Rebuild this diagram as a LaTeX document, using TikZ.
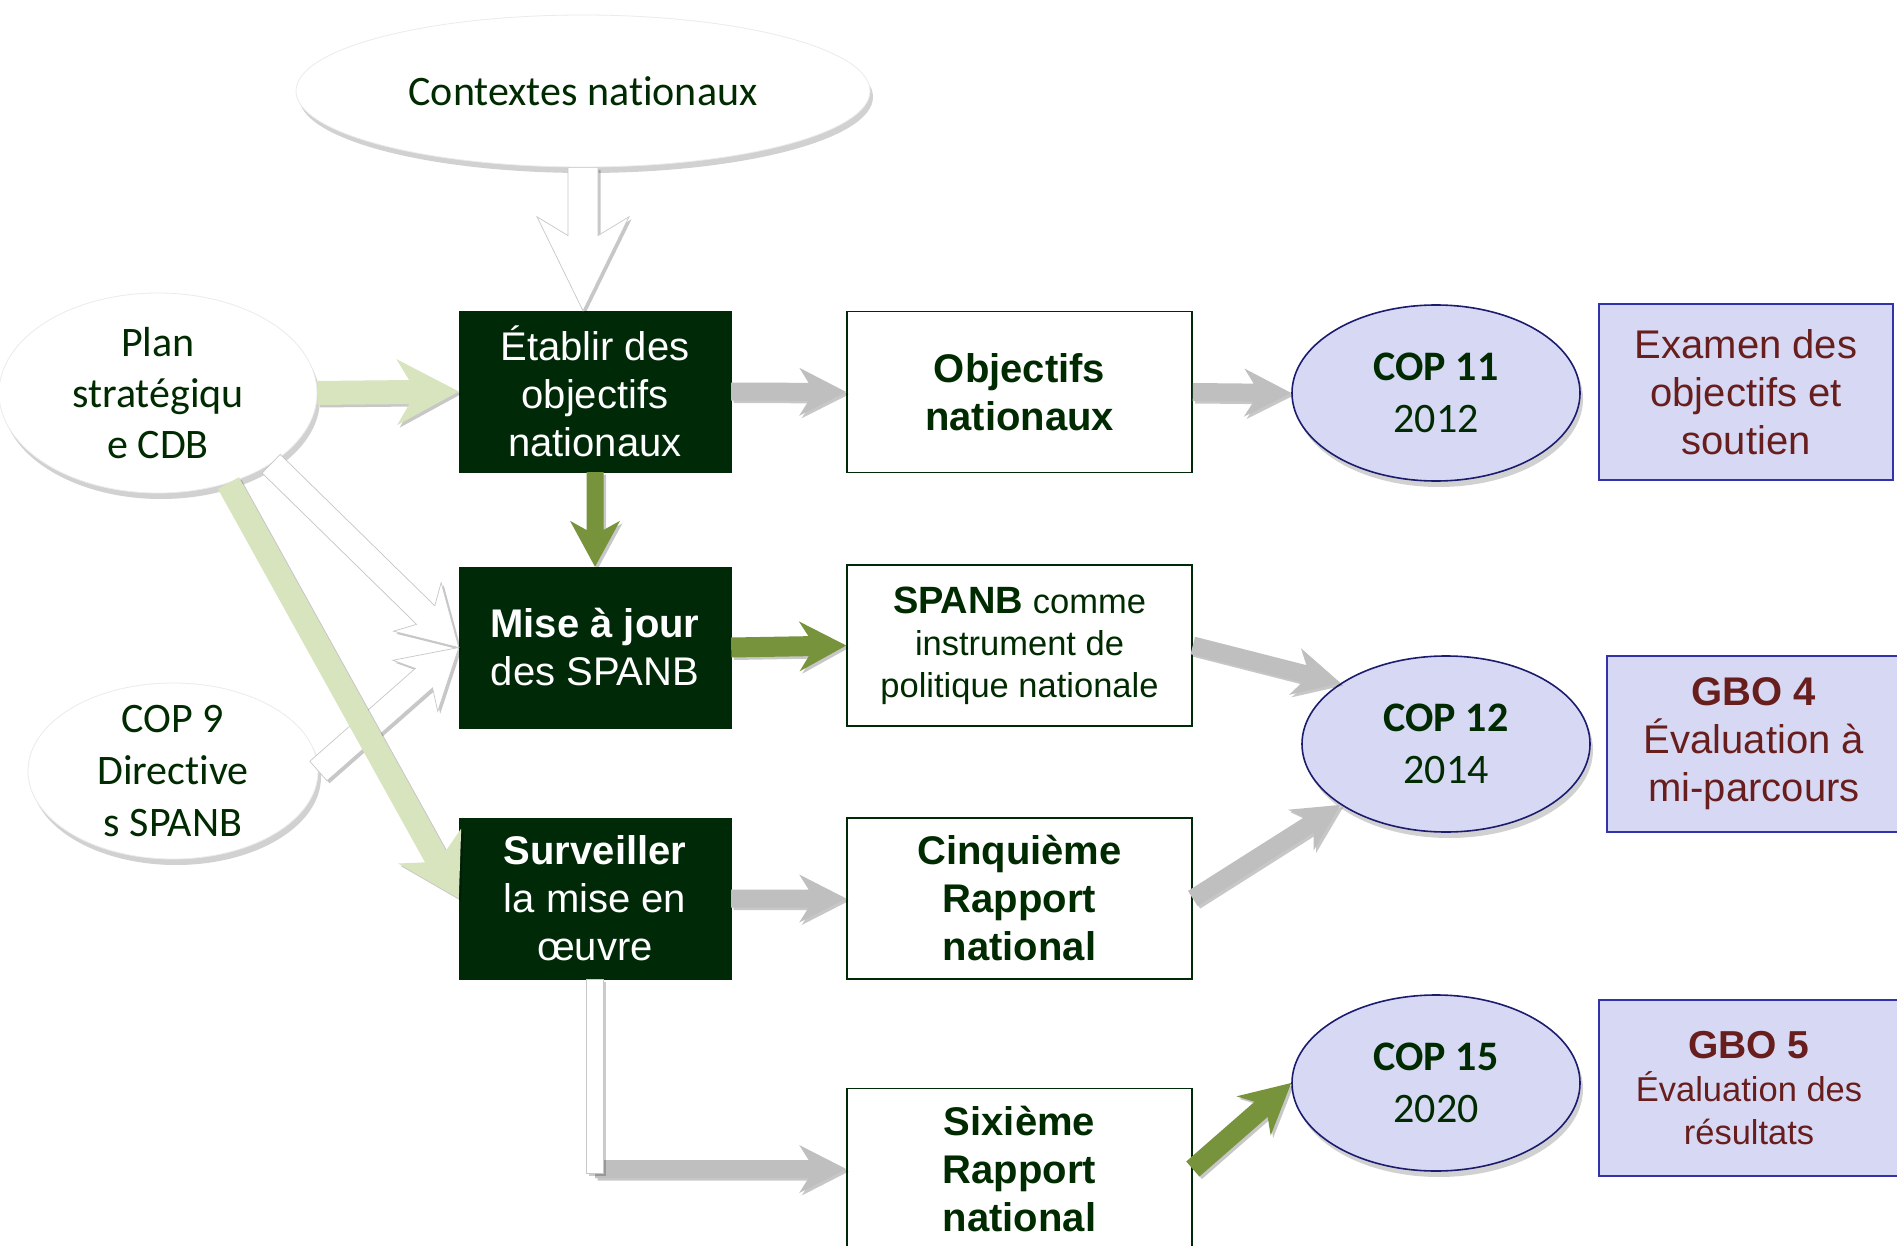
\documentclass[tikz,border=0pt]{standalone}
\usepackage{fontspec}
\setmainfont{Liberation Sans}
\newfontfamily\calfont[Ligatures={NoCommon}]{Carlito}
\usetikzlibrary{shapes.geometric,calc,shadows}

\definecolor{dkgreen}{RGB}{0,41,8}
\definecolor{txtgreen}{RGB}{0,42,0}
\definecolor{lav}{RGB}{215,217,244}
\definecolor{navy}{RGB}{28,28,110}
\definecolor{boxblue}{RGB}{50,50,170}
\definecolor{maroon}{RGB}{105,30,30}
\definecolor{lgreen}{RGB}{215,228,189}
\definecolor{agrey}{RGB}{191,191,191}
\definecolor{olive}{RGB}{119,147,60}

% block arrow: #1 style, #2 from, #3 to, #4 half shaft, #5 head length, #6 head half width
\newcommand\blockarr[6]{%
  \coordinate (bah) at ($(#3)!#5!(#2)$);
  \coordinate (baj) at ($(#3)!0.8*#5!(#2)$);
  \coordinate (bq1) at ($(#2)!#4!90:(#3)$);
  \coordinate (bq2) at ($(baj)!#4!90:(#3)$);
  \coordinate (bq3) at ($(bah)!#6!90:(#3)$);
  \coordinate (bq4) at ($(bah)!#6!-90:(#3)$);
  \coordinate (bq5) at ($(baj)!#4!-90:(#3)$);
  \coordinate (bq6) at ($(#2)!#4!-90:(#3)$);
  \path[arrshadow] (bq1) -- (bq2) -- (bq3) -- (#3) -- (bq4) -- (bq5) -- (bq6) -- cycle;
  \path[#1] (bq1) -- (bq2) -- (bq3) -- (#3) -- (bq4) -- (bq5) -- (bq6) -- cycle;
}

\tikzset{
  arrshadow/.style={fill=black, opacity=0.22, transform canvas={shift={(2.5pt,-2.5pt)}}},
  greyarr/.style={fill=agrey},
  olivearr/.style={fill=olive},
  lgarr/.style={fill=lgreen},
  whitearr/.style={fill=white, draw=black!22, line width=0.7pt},
  ellshadow/.style={drop shadow={shadow xshift=3pt, shadow yshift=-6pt, fill=black, opacity=0.18}},
  whiteell/.style={ellipse, fill=white, draw=black!8, line width=0.8pt, ellshadow, text=txtgreen, align=center, inner sep=0pt,
    font=\calfont\fontsize{42}{51}\selectfont},
  copell/.style={ellipse, fill=lav, draw=navy, line width=1.6pt, ellshadow, text=txtgreen, align=center,
    inner sep=0pt, minimum width=288pt, minimum height=176pt, font=\calfont\fontsize{42}{52}\selectfont},
  darkbox/.style={rectangle, fill=dkgreen, draw=dkgreen, text=white, align=center, inner sep=0pt,
    minimum width=272pt, minimum height=161pt, font=\fontsize{40}{48}\selectfont},
  whitebox/.style={rectangle, fill=white, draw=dkgreen, line width=1.6pt, text=txtgreen, align=center,
    inner sep=0pt, minimum width=345pt, minimum height=161pt, font=\fontsize{40}{48}\selectfont},
  purplebox/.style={rectangle, fill=lav, draw=boxblue, line width=1.6pt, text=maroon, align=center,
    inner sep=0pt, minimum height=176pt, font=\fontsize{40}{48}\selectfont},
}

\begin{document}
\begin{tikzpicture}[x=1pt, y=-1pt]
\useasboundingbox[fill=white] (0,0) rectangle (1897,1246);

% ellipses (inputs)
\node[whiteell, minimum width=574pt, minimum height=152pt] (ctx) at (583,91) {Contextes nationaux};
\node[whiteell, minimum width=318pt, minimum height=200pt, inner ysep=-6pt] (plan) at (158,393) {Plan\\strat\'egiqu\\e CDB};
\node[whiteell, minimum width=290pt, minimum height=176pt, inner ysep=-14pt, font=\calfont\fontsize{42}{52}\selectfont] (cop9) at (173,771) {COP 9\\Directive\\s SPANB};

% dark action boxes
\node[darkbox] (etab) at (595,391.5) {Établir des\\objectifs\\nationaux};
\node[darkbox] (maj) at (595,647.5) {\textbf{Mise à jour}\\des SPANB};
\node[darkbox] (surv) at (595,898.5) {\textbf{Surveiller}\\la mise en\\œuvre};

% white output boxes
\node[whitebox, font=\bfseries\fontsize{40}{48}\selectfont] (obj) at (1019.5,392) {Objectifs\\nationaux};
\node[whitebox, font=\fontsize{34.5}{42}\selectfont] (spanb) at (1019.5,645.5) {{\fontsize{38}{42}\selectfont\bfseries SPANB} comme\\instrument de\\politique nationale};
\node[whitebox, font=\bfseries\fontsize{40}{48}\selectfont] (cinq) at (1019.5,898.5) {Cinquième\\Rapport\\national};
\node[whitebox, font=\bfseries\fontsize{40}{48}\selectfont] (six) at (1019.5,1169) {Sixième\\Rapport\\national};

% COP ellipses
\node[copell] (cop11) at (1436,393) {\textbf{COP 11}\\2012};
\node[copell] (cop12) at (1446,744) {\textbf{COP 12}\\2014};
\node[copell] (cop15) at (1436,1083) {\textbf{COP 15}\\2020};

% purple boxes
\node[purplebox, minimum width=294pt] (exam) at (1746,392) {Examen des\\objectifs et\\soutien};
\node[purplebox, minimum width=294pt] (gbo4) at (1754,744) {\textbf{GBO 4}\\Évaluation à\\mi-parcours};
\node[purplebox, minimum width=300pt, font=\fontsize{34.5}{43}\selectfont] (gbo5) at (1749,1088) {{\fontsize{39}{43}\selectfont\bfseries GBO 5}\\Évaluation des\\résultats};

% connectors
\coordinate (ctxend) at (ctx.south |- etab.north);
\blockarr{whitearr}{ctx.south}{ctxend}{15pt}{94pt}{46pt}
\blockarr{whitearr}{plan.-32}{maj.west}{13pt}{58pt}{34pt}
\blockarr{whitearr}{cop9.east}{maj.west}{13pt}{58pt}{34pt}
\blockarr{lgarr}{plan.east}{etab.west}{12pt}{62pt}{33pt}
\blockarr{lgarr}{plan.-52}{surv.west}{12pt}{60pt}{36pt}

\blockarr{greyarr}{etab.east}{obj.west}{9pt}{47pt}{24pt}
\blockarr{greyarr}{obj.east}{cop11.west}{9pt}{47pt}{24pt}
\blockarr{olivearr}{etab.south}{maj.north}{8.5pt}{46pt}{25pt}
\blockarr{olivearr}{maj.east}{spanb.west}{10pt}{47pt}{25pt}
\blockarr{greyarr}{spanb.east}{cop12.150}{9pt}{47pt}{24pt}
\blockarr{greyarr}{cinq.east}{cop12.210}{9pt}{47pt}{24pt}
\blockarr{greyarr}{surv.east}{cinq.west}{9pt}{47pt}{24pt}

\coordinate (elb) at (surv.south |- six.west);
\blockarr{greyarr}{elb}{six.west}{9pt}{47pt}{24pt}
\fill[black, opacity=0.2, transform canvas={shift={(2.5pt,-2.5pt)}}] ($(surv.south)+(-8.5,0)$) rectangle ($(elb)+(8.5,4)$);
\path[whitearr] ($(surv.south)+(-8.5,0)$) rectangle ($(elb)+(8.5,4)$);

\blockarr{olivearr}{six.east}{cop15.west}{10pt}{50pt}{26pt}
\end{tikzpicture}
\end{document}
